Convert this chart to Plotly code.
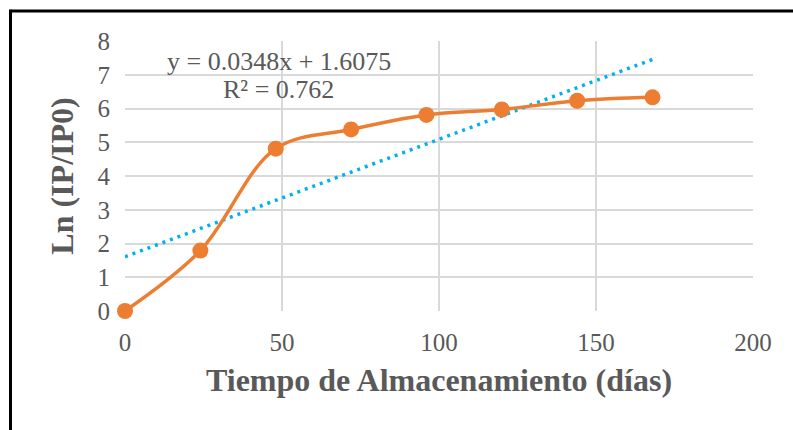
import plotly.graph_objects as go

# Storage time (days) and Ln(IP/IP0)
dias = [0, 24, 48, 72, 96, 120, 144, 168]
ln_ip = [0.0, 1.79, 4.81, 5.38, 5.81, 5.97, 6.23, 6.33]

# Linear trendline coefficients
pendiente = 0.0348
intercepto = 1.6075
r2 = 0.762

x_ticks = [0, 50, 100, 150, 200]
y_ticks = [0, 1, 2, 3, 4, 5, 6, 7, 8]

gris = "#595959"
fuente = "Liberation Serif"

tend_x = [min(dias), max(dias)]
tend_y = [pendiente * v + intercepto for v in tend_x]

fig = go.Figure()
fig.add_trace(go.Scatter(
    x=tend_x, y=tend_y, mode="lines",
    line=dict(color="#00B0F0", width=3.5, dash="3px,5px"),
    hoverinfo="skip", showlegend=False,
))
fig.add_trace(go.Scatter(
    x=dias, y=ln_ip, mode="lines+markers",
    line=dict(color="#ED7D31", width=3.5, shape="spline", smoothing=1.0),
    marker=dict(color="#ED7D31", size=16),
    showlegend=False, cliponaxis=False,
))

fig.update_layout(
    width=793, height=430,
    margin=dict(l=125, r=40, t=41, b=119),
    paper_bgcolor="white", plot_bgcolor="white",
    font=dict(family=fuente, color=gris, size=24),
    xaxis=dict(
        range=[0, 200], tickvals=x_ticks, showgrid=True,
        gridcolor="#D9D9D9", gridwidth=1.5, zeroline=False,
        showline=False, ticks="", ticklabelstandoff=14,
        tickfont=dict(family=fuente, size=25, color=gris),
        title=dict(text="<b>Tiempo de Almacenamiento (días)</b>",
                   font=dict(family=fuente, size=32, color=gris), standoff=13),
    ),
    yaxis=dict(
        range=[0, 8], tickvals=y_ticks, showgrid=True,
        gridcolor="#D9D9D9", gridwidth=1.5, zeroline=False,
        showline=False, ticks="", ticklabelstandoff=14,
        tickfont=dict(family=fuente, size=25, color=gris),
        title=dict(text="<b>Ln (IP/IP0)</b>",
                   font=dict(family=fuente, size=32, color=gris), standoff=14),
    ),
    annotations=[
        dict(x=0.245, y=0.925, xref="paper", yref="paper",
             xanchor="center", yanchor="middle",
             text=f"y = {pendiente}x + {intercepto}", showarrow=False,
             font=dict(size=26, color=gris, family=fuente)),
        dict(x=0.245, y=0.82, xref="paper", yref="paper",
             xanchor="center", yanchor="middle",
             text=f"R² = {r2}", showarrow=False,
             font=dict(size=26, color=gris, family=fuente)),
    ],
    shapes=[
        # outer frame edges (top and left)
        dict(type="line", xref="paper", yref="paper",
             x0=(10.5 - 125) / 628, x1=(795 - 125) / 628,
             y0=(311 - 11) / 270, y1=(311 - 11) / 270,
             line=dict(color="black", width=3)),
        dict(type="line", xref="paper", yref="paper",
             x0=(10.5 - 125) / 628, x1=(10.5 - 125) / 628,
             y0=(311 - 9.5) / 270, y1=(311 - 432) / 270,
             line=dict(color="black", width=3)),
    ],
)

fig.write_html("out.html")
